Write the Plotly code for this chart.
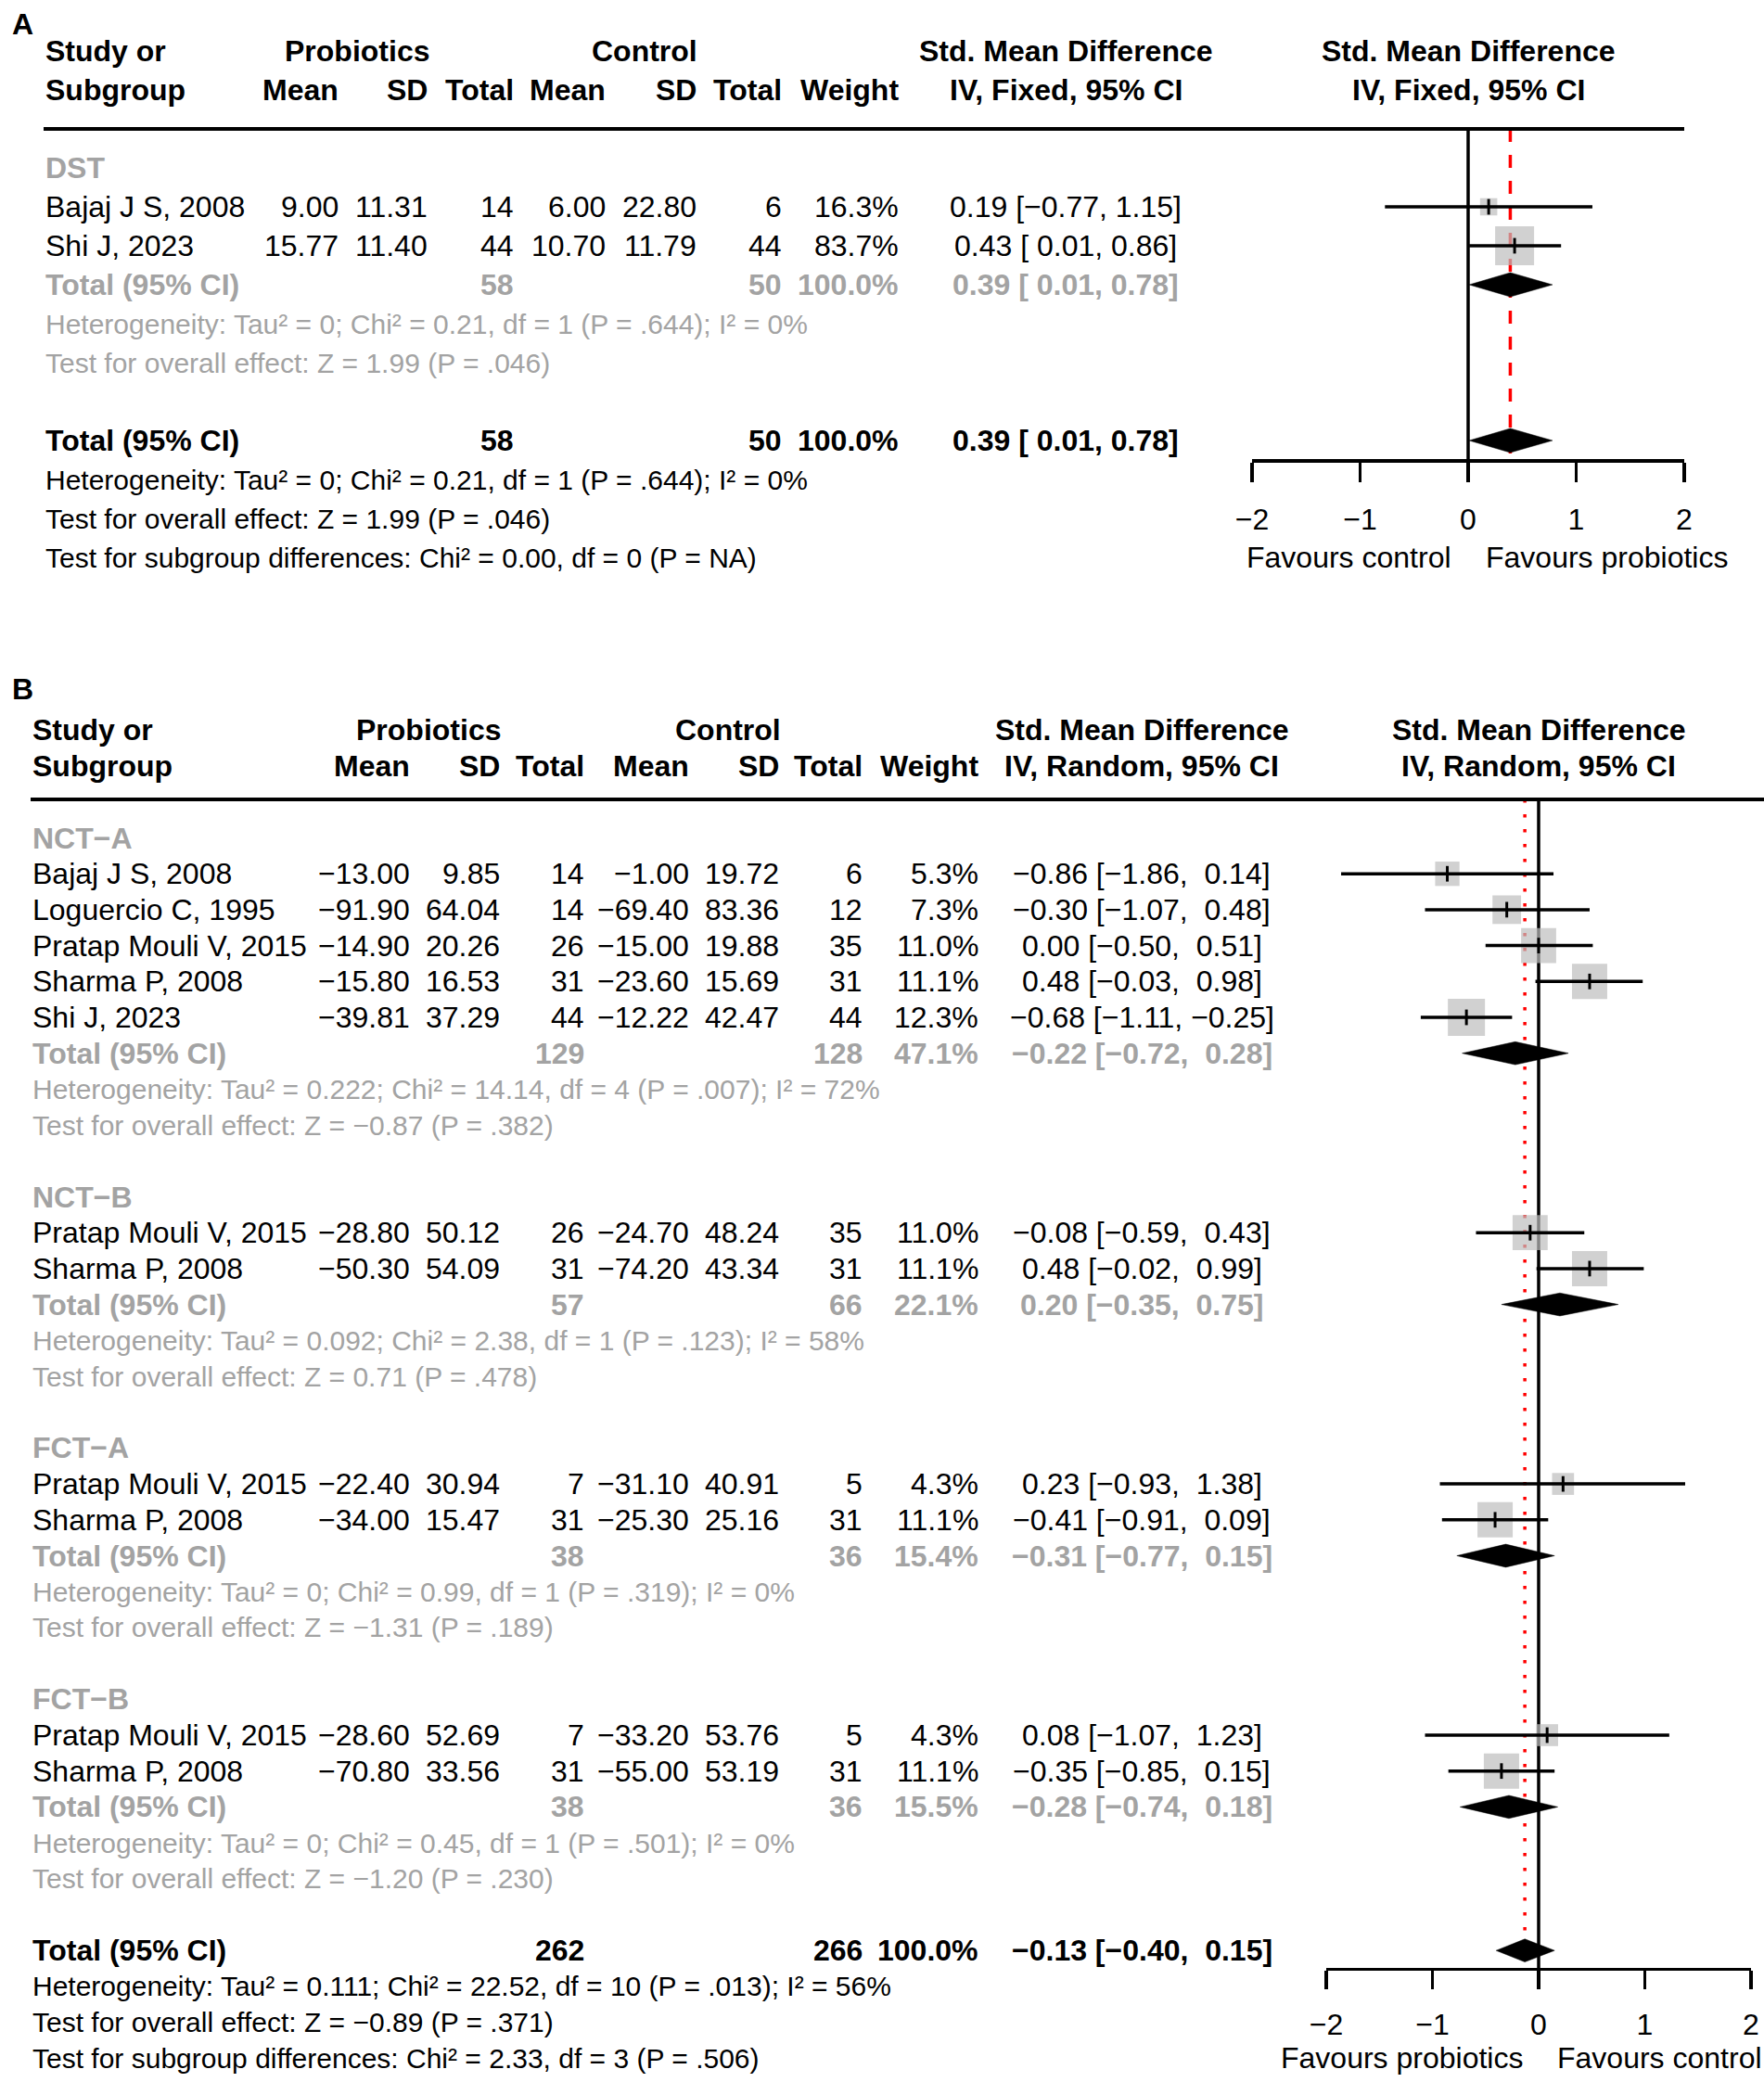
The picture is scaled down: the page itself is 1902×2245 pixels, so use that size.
import plotly.graph_objects as go

# ======================= DATA =======================
# ---- Panel A (DST, fixed effect) ----
a_label = "A"
a_group = "DST"
a_study = ["Bajaj J S, 2008", "Shi J, 2023"]
a_p_mean = [9.00, 15.77]
a_p_sd = [11.31, 11.40]
a_p_n = [14, 44]
a_c_mean = [6.00, 10.70]
a_c_sd = [22.80, 11.79]
a_c_n = [6, 44]
a_weight = [16.3, 83.7]
a_smd = [0.19, 0.43]
a_lo = [-0.77, 0.01]
a_hi = [1.15, 0.86]
a_sub_p_n = [58]
a_sub_c_n = [50]
a_sub_w = [100.0]
a_sub_smd = [0.39]
a_sub_lo = [0.01]
a_sub_hi = [0.78]
a_sub_het = ["Heterogeneity: Tau\u00b2 = 0; Chi\u00b2 = 0.21, df = 1 (P = .644); I\u00b2 = 0%"]
a_sub_test = ["Test for overall effect: Z = 1.99 (P = .046)"]
a_all_p_n = 58
a_all_c_n = 50
a_all_w = 100.0
a_all_smd = 0.39
a_all_lo = 0.01
a_all_hi = 0.78
a_all_het = "Heterogeneity: Tau\u00b2 = 0; Chi\u00b2 = 0.21, df = 1 (P = .644); I\u00b2 = 0%"
a_all_test = "Test for overall effect: Z = 1.99 (P = .046)"
a_all_sub = "Test for subgroup differences: Chi\u00b2 = 0.00, df = 0 (P = NA)"
a_method = "IV, Fixed, 95% CI"
a_fav_left = "Favours control"
a_fav_right = "Favours probiotics"
a_ticks = [-2, -1, 0, 1, 2]

# ---- Panel B (random effects, 4 subgroups) ----
b_label = "B"
b_groups = ["NCT\u2212A", "NCT\u2212B", "FCT\u2212A", "FCT\u2212B"]
b_group_of = [0, 0, 0, 0, 0, 1, 1, 2, 2, 3, 3]
b_study = ["Bajaj J S, 2008", "Loguercio C, 1995", "Pratap Mouli V, 2015", "Sharma P, 2008", "Shi J, 2023",
           "Pratap Mouli V, 2015", "Sharma P, 2008",
           "Pratap Mouli V, 2015", "Sharma P, 2008",
           "Pratap Mouli V, 2015", "Sharma P, 2008"]
b_p_mean = [-13.00, -91.90, -14.90, -15.80, -39.81, -28.80, -50.30, -22.40, -34.00, -28.60, -70.80]
b_p_sd = [9.85, 64.04, 20.26, 16.53, 37.29, 50.12, 54.09, 30.94, 15.47, 52.69, 33.56]
b_p_n = [14, 14, 26, 31, 44, 26, 31, 7, 31, 7, 31]
b_c_mean = [-1.00, -69.40, -15.00, -23.60, -12.22, -24.70, -74.20, -31.10, -25.30, -33.20, -55.00]
b_c_sd = [19.72, 83.36, 19.88, 15.69, 42.47, 48.24, 43.34, 40.91, 25.16, 53.76, 53.19]
b_c_n = [6, 12, 35, 31, 44, 35, 31, 5, 31, 5, 31]
b_weight = [5.3, 7.3, 11.0, 11.1, 12.3, 11.0, 11.1, 4.3, 11.1, 4.3, 11.1]
b_smd = [-0.86, -0.30, 0.00, 0.48, -0.68, -0.08, 0.48, 0.23, -0.41, 0.08, -0.35]
b_lo = [-1.86, -1.07, -0.50, -0.03, -1.11, -0.59, -0.02, -0.93, -0.91, -1.07, -0.85]
b_hi = [0.14, 0.48, 0.51, 0.98, -0.25, 0.43, 0.99, 1.38, 0.09, 1.23, 0.15]
b_sub_p_n = [129, 57, 38, 38]
b_sub_c_n = [128, 66, 36, 36]
b_sub_w = [47.1, 22.1, 15.4, 15.5]
b_sub_smd = [-0.22, 0.20, -0.31, -0.28]
b_sub_lo = [-0.72, -0.35, -0.77, -0.74]
b_sub_hi = [0.28, 0.75, 0.15, 0.18]
b_sub_het = [
    "Heterogeneity: Tau\u00b2 = 0.222; Chi\u00b2 = 14.14, df = 4 (P = .007); I\u00b2 = 72%",
    "Heterogeneity: Tau\u00b2 = 0.092; Chi\u00b2 = 2.38, df = 1 (P = .123); I\u00b2 = 58%",
    "Heterogeneity: Tau\u00b2 = 0; Chi\u00b2 = 0.99, df = 1 (P = .319); I\u00b2 = 0%",
    "Heterogeneity: Tau\u00b2 = 0; Chi\u00b2 = 0.45, df = 1 (P = .501); I\u00b2 = 0%",
]
b_sub_test = [
    "Test for overall effect: Z = \u22120.87 (P = .382)",
    "Test for overall effect: Z = 0.71 (P = .478)",
    "Test for overall effect: Z = \u22121.31 (P = .189)",
    "Test for overall effect: Z = \u22121.20 (P = .230)",
]
b_all_p_n = 262
b_all_c_n = 266
b_all_w = 100.0
b_all_smd = -0.13
b_all_lo = -0.40
b_all_hi = 0.15
b_all_het = "Heterogeneity: Tau\u00b2 = 0.111; Chi\u00b2 = 22.52, df = 10 (P = .013); I\u00b2 = 56%"
b_all_test = "Test for overall effect: Z = \u22120.89 (P = .371)"
b_all_sub = "Test for subgroup differences: Chi\u00b2 = 2.33, df = 3 (P = .506)"
b_method = "IV, Random, 95% CI"
b_fav_left = "Favours probiotics"
b_fav_right = "Favours control"
b_ticks = [-2, -1, 0, 1, 2]

# ======================= STYLE / LAYOUT =======================
FIG_W, FIG_H = 1902, 2245
FONT = "Liberation Sans, Arial, Helvetica, sans-serif"
FS = 32
FS_HET = 30
BLACK = "#000000"
GRAY_TXT = "#A3A3A3"
SQ_GRAY = "#BEBEBE"
RED = "#FF0000"
NB = "\u00a0"
LW = 3.5

PANELS = {
    "A": dict(row0=181.0, rowh=42.0, top=0, bot=700, xpx=(1350, 1816), hdr_line_row=-1.0,
              line_px=(47, 1816), label_row=-3.7, max_sq=42, dia_h=0.31,
              tick_label_px=556, ticklen=21,
              cols=dict(study=47, pmean=367, psd=463, pn=556, cmean=655, csd=753, cn=845,
                        w=971, ci=1149, prob=385, ctrl=695),
              fav_shift=(-16, 17), line_dash="14px,14px"),
    "B": dict(row0=903.5, rowh=38.7, top=700, bot=FIG_H, xpx=(1430, 1888), hdr_line_row=-1.07,
              line_px=(33, FIG_W), label_row=-4.15, max_sq=40, dia_h=0.32,
              tick_label_px=2180, ticklen=20,
              cols=dict(study=33, pmean=444, psd=541, pn=632, cmean=745, csd=842, cn=932,
                        w=1057, ci=1231, prob=462, ctrl=785),
              fav_shift=(-15, 18), line_dash="3.5px,12.5px"),
}


def fmt(v, nd=2):
    s = f"{abs(v):.{nd}f}"
    return ("\u2212" + s) if v < 0 else s


def ci_str(est, lo, hi, pad_lo, pad_hi):
    l = (NB if (pad_lo and lo >= 0) else "") + fmt(lo)
    h = (NB if (pad_hi and hi >= 0) else "") + fmt(hi)
    return f"{fmt(est)} [{l}, {h}]"


fig = go.Figure()
annotations = []
shapes = []


def txt(xpx, row, text, yref, anchor="right", bold=False, color=BLACK, xref="paper", size=FS, xshift=0):
    t = f"<b>{text}</b>" if bold else text
    x = xpx / FIG_W if xref == "paper" else xpx
    annotations.append(dict(x=x, y=row, xref=xref, yref=yref, text=t, showarrow=False,
                            xanchor=anchor, yanchor="middle", xshift=xshift,
                            font=dict(family=FONT, size=size, color=color)))


def build_panel(key, xa, ya, label, method, fav_left, fav_right, ticks,
                groups, group_of, study, p_mean, p_sd, p_n, c_mean, c_sd, c_n, weight, smd, lo, hi,
                sub_p_n, sub_c_n, sub_w, sub_smd, sub_lo, sub_hi, sub_het, sub_test,
                all_p_n, all_c_n, all_w, all_smd, all_lo, all_hi, all_het, all_test, all_sub):
    P = PANELS[key]
    c = P["cols"]
    yref = ya
    rowh = P["rowh"]

    def px2row(px):
        return (px - P["row0"]) / rowh

    # header
    txt(11, P["label_row"], label, yref, anchor="left", bold=True)
    txt(c["study"], -3, "Study or", yref, anchor="left", bold=True)
    txt(c["study"], -2, "Subgroup", yref, anchor="left", bold=True)
    txt(c["prob"], -3, "Probiotics", yref, anchor="center", bold=True)
    txt(c["ctrl"], -3, "Control", yref, anchor="center", bold=True)
    for k, t in [("pmean", "Mean"), ("psd", "SD"), ("pn", "Total"), ("cmean", "Mean"),
                 ("csd", "SD"), ("cn", "Total"), ("w", "Weight")]:
        txt(c[k], -2, t, yref, anchor="right", bold=True)
    txt(c["ci"], -3, "Std. Mean Difference", yref, anchor="center", bold=True)
    txt(c["ci"], -2, method, yref, anchor="center", bold=True)
    txt(0, -3, "Std. Mean Difference", yref, anchor="center", bold=True, xref=xa)
    txt(0, -2, method, yref, anchor="center", bold=True, xref=xa)
    shapes.append(dict(type="line", xref="paper", yref=yref,
                       x0=P["line_px"][0] / FIG_W, x1=P["line_px"][1] / FIG_W,
                       y0=P["hdr_line_row"], y1=P["hdr_line_row"],
                       line=dict(color=BLACK, width=4)))

    pad_lo = any(v < 0 for v in lo + sub_lo + [all_lo])
    pad_hi = any(v < 0 for v in hi + sub_hi + [all_hi])

    rows_study = []
    rows_sub = []
    row = 0
    for g, gname in enumerate(groups):
        txt(c["study"], row, gname, yref, anchor="left", bold=True, color=GRAY_TXT)
        idx = [i for i, gg in enumerate(group_of) if gg == g]
        for j, i in enumerate(idx):
            r = row + 1 + j
            rows_study.append(r)
            txt(c["study"], r, study[i], yref, anchor="left")
            txt(c["pmean"], r, fmt(p_mean[i]), yref)
            txt(c["psd"], r, fmt(p_sd[i]), yref)
            txt(c["pn"], r, str(p_n[i]), yref)
            txt(c["cmean"], r, fmt(c_mean[i]), yref)
            txt(c["csd"], r, fmt(c_sd[i]), yref)
            txt(c["cn"], r, str(c_n[i]), yref)
            txt(c["w"], r, f"{weight[i]:.1f}%", yref)
            txt(c["ci"], r, ci_str(smd[i], lo[i], hi[i], pad_lo, pad_hi), yref, anchor="center")
        rt = row + 1 + len(idx)
        rows_sub.append(rt)
        txt(c["study"], rt, "Total (95% CI)", yref, anchor="left", bold=True, color=GRAY_TXT)
        txt(c["pn"], rt, str(sub_p_n[g]), yref, bold=True, color=GRAY_TXT)
        txt(c["cn"], rt, str(sub_c_n[g]), yref, bold=True, color=GRAY_TXT)
        txt(c["w"], rt, f"{sub_w[g]:.1f}%", yref, bold=True, color=GRAY_TXT)
        txt(c["ci"], rt, ci_str(sub_smd[g], sub_lo[g], sub_hi[g], pad_lo, pad_hi), yref,
            anchor="center", bold=True, color=GRAY_TXT)
        txt(c["study"], rt + 1, sub_het[g], yref, anchor="left", color=GRAY_TXT, size=FS_HET)
        txt(c["study"], rt + 2, sub_test[g], yref, anchor="left", color=GRAY_TXT, size=FS_HET)
        row = rt + 4
    ra = row
    txt(c["study"], ra, "Total (95% CI)", yref, anchor="left", bold=True)
    txt(c["pn"], ra, str(all_p_n), yref, bold=True)
    txt(c["cn"], ra, str(all_c_n), yref, bold=True)
    txt(c["w"], ra, f"{all_w:.1f}%", yref, bold=True)
    txt(c["ci"], ra, ci_str(all_smd, all_lo, all_hi, pad_lo, pad_hi), yref, anchor="center", bold=True)
    txt(c["study"], ra + 1, all_het, yref, anchor="left", size=FS_HET)
    txt(c["study"], ra + 2, all_test, yref, anchor="left", size=FS_HET)
    txt(c["study"], ra + 3, all_sub, yref, anchor="left", size=FS_HET)

    axis_row = ra + 0.5
    fav_row = ra + 3
    txt(0, fav_row, fav_left, yref, anchor="right", xref=xa, xshift=P["fav_shift"][0])
    txt(0, fav_row, fav_right, yref, anchor="left", xref=xa, xshift=P["fav_shift"][1])

    # reference lines
    fig.add_trace(go.Scatter(x=[all_smd, all_smd], y=[P["hdr_line_row"], axis_row], mode="lines",
                             line=dict(color=RED, width=LW, dash=P["line_dash"]),
                             xaxis=xa, yaxis=ya, hoverinfo="skip", showlegend=False))
    fig.add_trace(go.Scatter(x=[0, 0], y=[P["hdr_line_row"], axis_row], mode="lines",
                             line=dict(color=BLACK, width=LW),
                             xaxis=xa, yaxis=ya, hoverinfo="skip", showlegend=False))
    # squares (side ~ sqrt(weight))
    wmax = max(weight)
    sizes = [P["max_sq"] * (w / wmax) ** 0.5 for w in weight]
    fig.add_trace(go.Scatter(x=smd, y=rows_study, mode="markers",
                             marker=dict(symbol="square", size=sizes, color=SQ_GRAY, line=dict(width=0)),
                             xaxis=xa, yaxis=ya, hoverinfo="skip", showlegend=False))
    # CI lines
    cx, cy = [], []
    for r, l_, h_ in zip(rows_study, lo, hi):
        cx += [l_, h_, None]
        cy += [r, r, None]
    fig.add_trace(go.Scatter(x=cx, y=cy, mode="lines", line=dict(color=BLACK, width=LW),
                             xaxis=xa, yaxis=ya, hoverinfo="skip", showlegend=False))
    # point-estimate ticks
    fig.add_trace(go.Scatter(x=smd, y=rows_study, mode="markers",
                             marker=dict(symbol="line-ns", size=12, line=dict(color=BLACK, width=3)),
                             xaxis=xa, yaxis=ya, hoverinfo="skip", showlegend=False))
    # diamonds
    dx, dy = [], []
    h = P["dia_h"]
    for r, e, l_, h_ in list(zip(rows_sub, sub_smd, sub_lo, sub_hi)) + [(ra, all_smd, all_lo, all_hi)]:
        dx += [l_, e, h_, e, l_, None]
        dy += [r, r - h, r, r + h, r, None]
    fig.add_trace(go.Scatter(x=dx, y=dy, mode="lines", fill="toself", fillcolor=BLACK,
                             line=dict(color=BLACK, width=0.5),
                             xaxis=xa, yaxis=ya, hoverinfo="skip", showlegend=False))

    # axes
    top_row = px2row(P["top"])
    bot_row = px2row(P["bot"])
    axis_px = P["row0"] + axis_row * rowh
    standoff = P["tick_label_px"] - (axis_px + P["ticklen"]) - 26
    xname = "xaxis" if xa == "x" else "xaxis" + xa[1:]
    yname = "yaxis" if ya == "y" else "yaxis" + ya[1:]
    fig.update_layout(**{
        xname: dict(range=[ticks[0], ticks[-1]], domain=[P["xpx"][0] / FIG_W, P["xpx"][1] / FIG_W],
                    anchor="free", position=1 - axis_px / FIG_H, automargin=False,
                    showline=True, linecolor=BLACK, linewidth=LW,
                    ticks="outside", ticklen=P["ticklen"], tickwidth=LW, tickcolor=BLACK,
                    tickvals=ticks, ticktext=[fmt(t, 0) for t in ticks],
                    tickfont=dict(family=FONT, size=FS, color=BLACK),
                    ticklabelstandoff=max(0, int(round(standoff))),
                    showgrid=False, zeroline=False, fixedrange=True),
        yname: dict(range=[bot_row, top_row], domain=[1 - P["bot"] / FIG_H, 1 - P["top"] / FIG_H],
                    visible=False, anchor=xa, automargin=False, fixedrange=True),
    })


build_panel("A", "x", "y", a_label, a_method, a_fav_left, a_fav_right, a_ticks,
            [a_group], [0] * len(a_study), a_study, a_p_mean, a_p_sd, a_p_n, a_c_mean, a_c_sd, a_c_n,
            a_weight, a_smd, a_lo, a_hi,
            a_sub_p_n, a_sub_c_n, a_sub_w, a_sub_smd, a_sub_lo, a_sub_hi, a_sub_het, a_sub_test,
            a_all_p_n, a_all_c_n, a_all_w, a_all_smd, a_all_lo, a_all_hi, a_all_het, a_all_test, a_all_sub)

build_panel("B", "x2", "y2", b_label, b_method, b_fav_left, b_fav_right, b_ticks,
            b_groups, b_group_of, b_study, b_p_mean, b_p_sd, b_p_n, b_c_mean, b_c_sd, b_c_n,
            b_weight, b_smd, b_lo, b_hi,
            b_sub_p_n, b_sub_c_n, b_sub_w, b_sub_smd, b_sub_lo, b_sub_hi, b_sub_het, b_sub_test,
            b_all_p_n, b_all_c_n, b_all_w, b_all_smd, b_all_lo, b_all_hi, b_all_het, b_all_test, b_all_sub)

fig.update_layout(width=FIG_W, height=FIG_H, autosize=False,
                  margin=dict(l=0, r=0, t=0, b=0, pad=0, autoexpand=False),
                  paper_bgcolor="white", plot_bgcolor="rgba(0,0,0,0)",
                  font=dict(family=FONT, size=FS, color=BLACK),
                  annotations=annotations, shapes=shapes, showlegend=False)

# remove the browser's default 8px body margin so the 1902x2245 figure fills the window exactly
fig.write_html("out.html", config={"displayModeBar": False, "staticPlot": True},
               post_script="document.body.style.margin='0px';document.body.style.overflow='hidden';")
